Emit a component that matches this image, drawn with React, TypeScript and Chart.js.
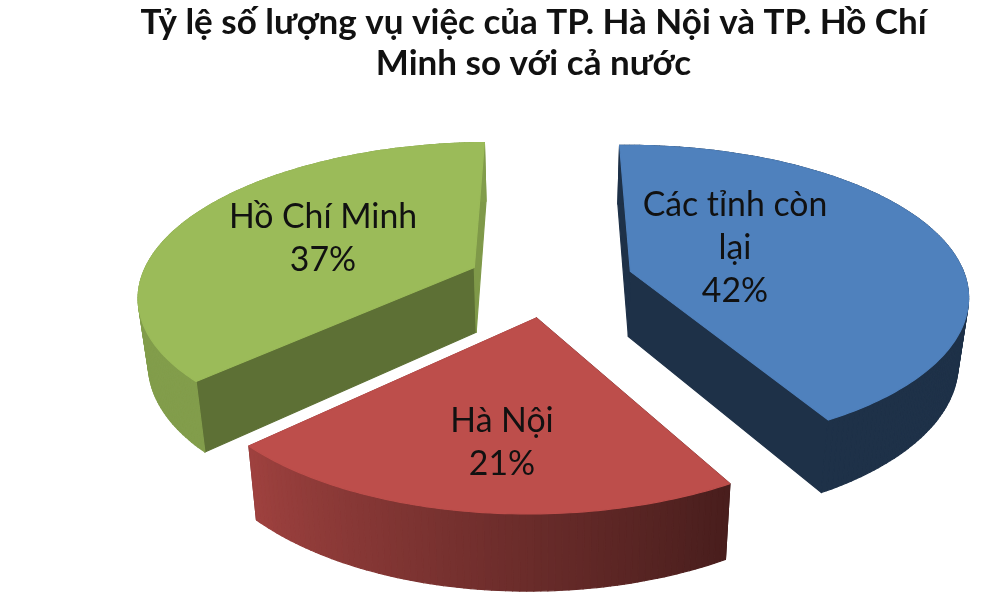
import { useEffect, useRef } from "react";
import { Chart, registerables } from "chart.js";

Chart.register(...registerables);

const titleLines = ["Tỷ lệ số lượng vụ việc của TP. Hà Nội và TP. Hồ Chí", "Minh so với cả nước"];
const categories = ["Các tỉnh còn lại", "Hà Nội", "Hồ Chí Minh"];
const categoryLines = [["Các tỉnh còn", "lại"], ["Hà Nội"], ["Hồ Chí Minh"]];
const shares = [42, 21, 37];
const sliceColors = ["#4f81bd", "#bd4e4b", "#9bbb59"];

// shade of the two straight walls of each slice: start side, end side
const wallShades = [[0.38, 0.38], [0.3, 0.7], [0.6, 0.82]];
const labelCentres = [[735, 248], [502, 443], [323, 239]];

const FONT = "Lato, 'Noto Sans', sans-serif";
const EXPLODE_X = 0.25;
const EXPLODE_Y = 0.24;

// camera fitted on the picture, y in pie radii towards the viewer
const VANISH_X = 550;
const VANISH_Y = -624;
const PERSP_C = 1.1039e-3;
const PERSP_K = 0.1825e-3;
const RADIUS_X = 335;

const project = (x: number, y: number, low: boolean) => {
  const inv = PERSP_C - PERSP_K * y;
  const w = inv / PERSP_C;
  const sx = (RADIUS_X * x) / Math.pow(w, 0.95);
  const top = VANISH_Y + 1 / inv - 1 - 0.008 * sx;
  if (!low) return [VANISH_X + sx, top];
  return [VANISH_X + sx * 0.975, top + 65 + (top - 270) * 0.05];
};

const shadeHex = (hex: string, f: number) => {
  const n = parseInt(hex.slice(1), 16);
  const r = Math.round(((n >> 16) & 255) * f);
  const g = Math.round(((n >> 8) & 255) * f);
  const b = Math.round((n & 255) * f);
  return `rgb(${r},${g},${b})`;
};

// outer wall gets lighter going round from the lower right to the left
const outerShade = (angle: number) => {
  const deg = ((angle + Math.PI / 2) * 180) / Math.PI;
  const t = Math.min(1, Math.max(0, (deg - 151) / 76));
  return 0.38 + t * 0.46;
};

const fillPoly = (ctx: CanvasRenderingContext2D, pts: number[][], color: string) => {
  ctx.beginPath();
  pts.forEach((p, i) => (i ? ctx.lineTo(p[0], p[1]) : ctx.moveTo(p[0], p[1])));
  ctx.closePath();
  ctx.fillStyle = color;
  ctx.strokeStyle = color;
  ctx.lineWidth = 1.2;
  ctx.lineJoin = "round";
  ctx.fill();
  ctx.stroke();
};

const pie3d = {
  id: "pie3d",
  beforeDatasetsDraw(chart: any) {
    const ctx: CanvasRenderingContext2D = chart.ctx;
    const arcs = chart.getDatasetMeta(0).data;
    const order = arcs
      .map((_: any, i: number) => i)
      .sort((a: number, b: number) => {
        const m = (k: number) => Math.sin((arcs[k].startAngle + arcs[k].endAngle) / 2);
        return m(a) - m(b);
      });

    order.forEach((i: number) => {
      const { startAngle, endAngle } = arcs[i];
      const color = sliceColors[i];
      const mid = (startAngle + endAngle) / 2;
      const ox = EXPLODE_X * Math.cos(mid);
      const oy = EXPLODE_Y * Math.sin(mid);
      const rim = (a: number, low: boolean) => project(ox + Math.cos(a), oy + Math.sin(a), low);
      const apexTop = project(ox, oy, false);
      const apexLow = project(ox, oy, true);

      fillPoly(ctx, [apexTop, rim(startAngle, false), rim(startAngle, true), apexLow], shadeHex(color, wallShades[i][0]));
      fillPoly(ctx, [apexTop, rim(endAngle, false), rim(endAngle, true), apexLow], shadeHex(color, wallShades[i][1]));

      const steps = Math.ceil(((endAngle - startAngle) * 180) / Math.PI);
      const da = (endAngle - startAngle) / steps;
      const outline = [apexTop];
      for (let s = 0; s < steps; s++) {
        const a = startAngle + s * da;
        fillPoly(ctx, [rim(a, false), rim(a + da, false), rim(a + da, true), rim(a, true)], shadeHex(color, outerShade(a + da / 2)));
        outline.push(rim(a, false));
      }
      outline.push(rim(endAngle, false));
      fillPoly(ctx, outline, color);
    });
    return false;
  },
  afterDraw(chart: any) {
    const ctx: CanvasRenderingContext2D = chart.ctx;
    ctx.save();
    ctx.font = `33.8px ${FONT}`;
    ctx.fillStyle = "#111";
    ctx.textAlign = "center";
    ctx.textBaseline = "middle";
    categoryLines.forEach((lines, i) => {
      const all = [...lines, `${shares[i]}%`];
      all.forEach((line, k) => {
        const y = labelCentres[i][1] + (k - (all.length - 1) / 2) * 43;
        ctx.fillText(line, labelCentres[i][0], y);
      });
    });
    ctx.restore();
  },
};

export default function App() {
  const canvasRef = useRef<HTMLCanvasElement>(null);

  useEffect(() => {
    document.body.style.margin = "0";
    const chart = new Chart(canvasRef.current!, {
      type: "pie",
      data: {
        labels: categories,
        datasets: [{ data: shares, backgroundColor: sliceColors, borderWidth: 0 }],
      },
      options: {
        responsive: false,
        animation: false,
        layout: { padding: { left: 68 } },
        plugins: {
          legend: { display: false },
          tooltip: { enabled: false },
          title: {
            display: true,
            text: titleLines,
            fullSize: false,
            color: "#111",
            font: { family: FONT, size: 35, weight: "bold", lineHeight: 1.15 },
            padding: { top: 3, bottom: 10 },
          },
        },
      },
      plugins: [pie3d],
    } as any);
    return () => chart.destroy();
  }, []);

  return <canvas ref={canvasRef} width={999} height={596} style={{ display: "block" }} />;
}
